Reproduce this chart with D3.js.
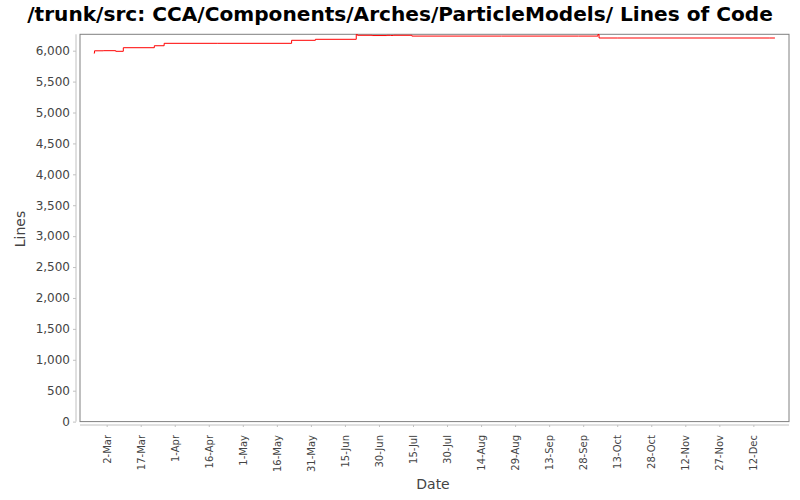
<!DOCTYPE html>
<html><head><meta charset="utf-8">
<script src="https://cdn.jsdelivr.net/npm/d3@7"></script>
<style>body{margin:0;background:#fff}text{font-family:"DejaVu Sans",sans-serif}</style>
</head><body>
<svg id="c" width="800" height="500"></svg>
<script>
const title = "/trunk/src: CCA/Components/Arches/ParticleModels/ Lines of Code";
const dates = ["2007-02-24T08:00","2007-02-24T16:00","2007-02-28T12:00","2007-03-06T00:00","2007-03-09T08:00",
  "2007-03-23T00:00","2007-03-27T08:00","2007-04-20T00:00","2007-05-22T12:00","2007-06-02T00:00",
  "2007-06-20T00:00","2007-06-20T12:00","2007-06-27T00:00","2007-07-03T12:00","2007-07-05T00:00",
  "2007-07-06T12:00","2007-07-14T12:00","2007-08-23T00:00","2007-09-26T00:00","2007-10-04T12:00",
  "2007-10-05T00:00","2007-10-13T00:00","2007-12-19T00:00","2007-12-21T12:00"];
const lines = [5960,5998,6000,5990,6048,6080,6119,6119,6168,6184,
  6262,6249,6245,6248,6246,6249,6236,6236,6236,6262,
  6205,6205,6205,6205];
const xTickDates = ["2007-03-02","2007-03-17","2007-04-01","2007-04-16","2007-05-01","2007-05-16","2007-05-31",
  "2007-06-15","2007-06-30","2007-07-15","2007-07-30","2007-08-14","2007-08-29","2007-09-13","2007-09-28",
  "2007-10-13","2007-10-28","2007-11-12","2007-11-27","2007-12-12"];
const yTicks = [0,500,1000,1500,2000,2500,3000,3500,4000,4500,5000,5500,6000];
const xDomain = ["2007-02-18T06:00","2007-12-27T17:00"];
const yMax = 6265;

const parse = d3.isoParse;
const data = dates.map((d,i)=>({x:parse(d), y:lines[i]}));
const svg = d3.select("#c");
const L=80, R=789, T=34.3, B=421.6;
const x = d3.scaleTime().domain(xDomain.map(parse)).range([L,R]);
const y = d3.scaleLinear().domain([0,yMax]).range([B,T]);
const grey="#444444";

svg.append("rect").attr("width",800).attr("height",500).attr("fill","#fff");

// title
const tt = svg.append("text").attr("x",400).attr("y",20.5).attr("text-anchor","middle")
  .attr("font-weight","bold").attr("font-size",20).attr("fill","#000").text(title);
const w = tt.node().getComputedTextLength();
tt.attr("font-size", 20*746/w);

// plot outline
svg.append("rect").attr("x",L).attr("y",T).attr("width",R-L).attr("height",B-T)
  .attr("fill","#fff").attr("stroke","#808080").attr("stroke-width",1);

// y axis
const ya = svg.append("g").attr("transform","translate(76,0)")
  .call(d3.axisLeft(y).tickValues(yTicks).tickFormat(d3.format(",")).tickSizeOuter(0).tickSizeInner(3).tickPadding(3));
ya.select(".domain").attr("stroke","#c0c0c0").attr("d",`M0,${T}V${B}`);
ya.selectAll(".tick line").attr("stroke","#c0c0c0");
ya.selectAll(".tick text").attr("fill",grey).attr("font-size",12).attr("font-family","DejaVu Sans");

// x axis
const fmt = d3.timeFormat("%-d-%b");
const xa = svg.append("g").attr("transform","translate(0,425)")
  .call(d3.axisBottom(x).tickValues(xTickDates.map(parse)).tickFormat(fmt).tickSizeOuter(0).tickSizeInner(2));
xa.select(".domain").attr("stroke","#c0c0c0").attr("d",`M${L},0H${R}`);
xa.selectAll(".tick line").attr("stroke","#c0c0c0");
xa.selectAll(".tick text").attr("fill",grey).attr("font-size",10).attr("font-family","DejaVu Sans")
  .attr("text-anchor","end").attr("transform","rotate(-90)").attr("x",-10).attr("y",0).attr("dy","0.35em");

// axis labels
svg.append("text").attr("transform","translate(25,229) rotate(-90)").attr("text-anchor","middle")
  .attr("font-size",14).attr("fill",grey).text("Lines");
svg.append("text").attr("x",433).attr("y",489).attr("text-anchor","middle")
  .attr("font-size",14).attr("fill",grey).text("Date");

// step line
const line = d3.line().x(d=>x(d.x)).y(d=>y(d.y)).curve(d3.curveStepAfter);
svg.append("path").datum(data).attr("d",line).attr("fill","none").attr("stroke","#ff0000").attr("stroke-width",1);
</script>
</body></html>
